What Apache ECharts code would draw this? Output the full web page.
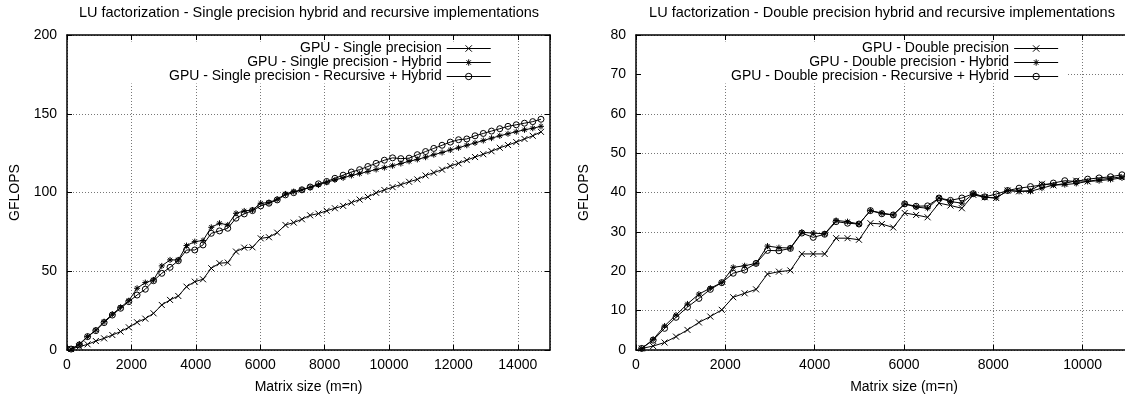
<!DOCTYPE html>
<html>
<head>
<meta charset="utf-8">
<script src="https://cdn.jsdelivr.net/npm/echarts@6/dist/echarts.min.js"></script>
<style>
  html, body { margin: 0; padding: 0; background: #fff; }
  #chart { width: 1125px; height: 398px; }
</style>
</head>
<body>
<div id="chart"></div>
<script>
// Matrix sizes (m = n) used in the single and double precision runs
const sizesSingle = [128, 384, 640, 896, 1152, 1408, 1664, 1920, 2176, 2432, 2688, 2944, 3200, 3456, 3712, 3968,
  4224, 4480, 4736, 4992, 5248, 5504, 5760, 6016, 6272, 6528, 6784, 7040, 7296, 7552, 7808, 8064, 8320, 8576,
  8832, 9088, 9344, 9600, 9856, 10112, 10368, 10624, 10880, 11136, 11392, 11648, 11904, 12160, 12416, 12672,
  12928, 13184, 13440, 13696, 13952, 14208, 14464, 14720];
const sizesDouble = [128, 384, 640, 896, 1152, 1408, 1664, 1920, 2176, 2432, 2688, 2944, 3200, 3456, 3712, 3968,
  4224, 4480, 4736, 4992, 5248, 5504, 5760, 6016, 6272, 6528, 6784, 7040, 7296, 7552, 7808, 8064, 8320, 8576,
  8832, 9088, 9344, 9600, 9856, 10112, 10368, 10624, 10880];

// GFLOPS, single precision
const spGpu = [0.6, 2.1, 3.6, 5.7, 7.4, 9.5, 11.7, 14.4, 17.6, 19.9, 23.3, 28.6, 31.8, 34.3, 40.2, 43.4, 44.9,
  51.9, 55.1, 55.5, 62.5, 65.0, 65.2, 70.9, 71.6, 74.5, 79.4, 80.9, 83.0, 85.5, 86.6, 88.4, 90.0, 91.5, 93.6,
  95.5, 97.2, 99.8, 101.6, 103.4, 105.0, 106.8, 108.3, 110.8, 112.6, 114.5, 116.8, 118.5, 120.6, 122.5, 124.3,
  126.2, 128.4, 130.1, 132.0, 134.0, 136.0, 138.5];
const spHybrid = [0.6, 3.8, 8.5, 12.7, 18.0, 22.7, 27.1, 31.3, 39.2, 42.8, 44.5, 53.4, 57.2, 57.2, 66.3, 68.8,
  69.5, 77.9, 80.5, 79.4, 86.8, 88.3, 88.9, 93.2, 93.6, 95.7, 99.1, 100.6, 101.7, 103.2, 104.8, 106.5, 108.0,
  109.3, 110.8, 112.0, 113.3, 114.6, 115.8, 117.0, 118.4, 119.8, 121.0, 122.4, 124.0, 125.4, 127.0, 128.4,
  130.0, 131.5, 133.0, 134.5, 136.0, 137.3, 138.6, 139.8, 140.8, 142.0];
const spRecursive = [0.6, 3.2, 8.5, 12.3, 17.4, 22.2, 26.5, 30.7, 34.9, 38.6, 44.0, 48.7, 52.5, 56.7, 63.5,
  63.5, 66.7, 74.1, 75.6, 77.3, 83.7, 86.4, 88.5, 91.5, 93.2, 95.3, 98.5, 99.9, 101.7, 103.5, 105.5, 107.0,
  109.0, 111.0, 113.0, 114.5, 116.5, 118.5, 120.5, 122.0, 121.5, 121.8, 124.0, 126.0, 128.0, 130.0, 132.0,
  133.5, 134.0, 136.0, 137.5, 139.0, 140.5, 142.0, 143.0, 144.0, 145.0, 146.5];

// GFLOPS, double precision
const dpGpu = [0.4, 1.0, 1.9, 3.4, 5.1, 7.0, 8.5, 10.2, 13.4, 14.4, 15.4, 19.3, 19.9, 20.2, 24.4, 24.4, 24.4,
  28.4, 28.4, 28.0, 32.2, 32.0, 31.1, 34.8, 34.3, 33.7, 37.3, 36.7, 36.0, 39.4, 38.8, 38.6, 40.5, 40.3, 40.5,
  42.2, 41.8, 42.3, 43.0, 42.8, 43.3, 43.6, 44.0];
const dpHybrid = [0.4, 2.7, 6.1, 8.9, 11.7, 14.2, 15.7, 17.1, 21.0, 21.4, 22.0, 26.4, 26.0, 25.9, 29.9, 29.7,
  29.5, 32.9, 32.6, 32.0, 35.4, 34.8, 34.3, 37.1, 36.3, 36.0, 38.6, 37.7, 37.3, 39.7, 38.8, 38.6, 40.5, 40.3,
  40.3, 41.1, 41.9, 42.0, 42.3, 42.8, 43.0, 43.3, 43.7];
const dpRecursive = [0.4, 2.5, 5.5, 8.3, 10.9, 13.1, 15.4, 17.1, 19.5, 20.3, 22.0, 25.3, 25.2, 25.8, 29.7,
  28.6, 29.4, 32.6, 32.2, 32.0, 35.4, 34.6, 34.3, 37.1, 36.5, 36.6, 38.6, 38.0, 38.6, 39.7, 38.9, 39.6, 40.5,
  41.1, 41.5, 41.9, 42.4, 43.0, 42.8, 43.4, 43.7, 44.0, 44.5];

const titles = [
  'LU factorization - Single precision hybrid and recursive implementations',
  'LU factorization - Double precision hybrid and recursive implementations'
];
const namesSingle = ['GPU - Single precision', 'GPU - Single precision - Hybrid',
  'GPU - Single precision - Recursive + Hybrid'];
const namesDouble = ['GPU - Double precision', 'GPU - Double precision - Hybrid',
  'GPU - Double precision - Recursive + Hybrid'];

const FONT = '"Liberation Sans", Arial, Helvetica, sans-serif';
const TXT = { color: '#000', fontFamily: FONT, fontSize: 14 };

// point markers: x, asterisk, open circle
const SYM_CROSS = 'path://M0,0L10,10M0,10L10,0';
const SYM_STAR = 'path://M5,0L5,10M0,5L10,5M1.5,1.5L8.5,8.5M1.5,8.5L8.5,1.5';
const SYM_CIRCLE = 'circle';

function pairs(xs, ys) { return ys.map((y, i) => [xs[i], y]); }

function lineSeries(name, xs, ys, symbol, axisIdx) {
  return {
    type: 'line', name, data: pairs(xs, ys),
    xAxisIndex: axisIdx, yAxisIndex: axisIdx,
    symbol, symbolSize: 6, showSymbol: true, showAllSymbol: true,
    lineStyle: { color: '#000', width: 1 },
    itemStyle: { color: 'rgba(0,0,0,0)', borderColor: '#000', borderWidth: 1 },
    emphasis: { disabled: true }, silent: true, animation: false, z: 3
  };
}

const GRID_LINE = { color: '#777', width: 1, type: [1, 2] };
const BORDER = { color: '#000', width: 1.5 };
const TICK = { show: true, inside: true, length: 5, lineStyle: { color: '#000', width: 1 } };
const plainNumber = v => String(v);

function xPair(gridIndex, max) {
  const base = { type: 'value', gridIndex, min: 0, max, interval: 2000 };
  return [
    Object.assign({}, base, {
      position: 'bottom',
      axisLine: { show: true, onZero: false, lineStyle: BORDER },
      axisTick: TICK,
      axisLabel: Object.assign({ margin: 8, showMaxLabel: false, formatter: plainNumber }, TXT),
      splitLine: { show: true, lineStyle: GRID_LINE },
      name: 'Matrix size (m=n)', nameLocation: 'middle', nameGap: 30,
      nameTextStyle: TXT
    }),
    Object.assign({}, base, {
      position: 'top',
      axisLine: { show: true, onZero: false, lineStyle: BORDER },
      axisTick: TICK, axisLabel: { show: false }, splitLine: { show: false }
    })
  ];
}

function yPair(gridIndex, max, interval) {
  const base = { type: 'value', gridIndex, min: 0, max, interval };
  return [
    Object.assign({}, base, {
      position: 'left',
      axisLine: { show: true, onZero: false, lineStyle: BORDER },
      axisTick: TICK,
      axisLabel: Object.assign({ margin: 10, formatter: plainNumber }, TXT),
      splitLine: { show: true, lineStyle: GRID_LINE },
      name: 'GFLOPS', nameLocation: 'middle', nameGap: 45, nameRotate: 90,
      nameTextStyle: TXT
    }),
    Object.assign({}, base, {
      position: 'right',
      axisLine: { show: true, onZero: false, lineStyle: BORDER },
      axisTick: TICK, axisLabel: { show: false }, splitLine: { show: false }
    })
  ];
}

function legend(names, left, padLeft) {
  return {
    data: names, orient: 'vertical', align: 'right',
    left, top: 41.5, padding: [0, 8, 0, padLeft],
    itemWidth: 44, itemHeight: 8, itemGap: 0,
    backgroundColor: '#fff', selectedMode: false,
    lineStyle: { width: 1, color: '#000' },
    itemStyle: { borderWidth: 1, borderColor: '#000', color: 'rgba(0,0,0,0)' },
    textStyle: Object.assign({ lineHeight: 14 }, TXT)
  };
}

const chart = echarts.init(document.getElementById('chart'), null, { renderer: 'canvas' });
chart.setOption({
  animation: false,
  backgroundColor: '#fff',
  title: [
    { text: titles[0], left: 309, top: 5, padding: 0, textAlign: 'center',
      textStyle: Object.assign({}, TXT, { fontWeight: 'normal', fontSize: 14.5 }) },
    { text: titles[1], left: 882, top: 5, padding: 0, textAlign: 'center',
      textStyle: Object.assign({}, TXT, { fontWeight: 'normal', fontSize: 14.5 }) }
  ],
  grid: [
    { left: 67, top: 35, width: 483, height: 315, outerBoundsMode: 'none', containLabel: false },
    { left: 636, top: 35, width: 536, height: 315, outerBoundsMode: 'none', containLabel: false }
  ],
  xAxis: [...xPair(0, 15000), ...xPair(1, 12000)],
  yAxis: [...yPair(0, 200, 50), ...yPair(1, 80, 10)],
  legend: [legend(namesSingle, 73, 96), legend(namesDouble, 642, 89)],
  series: [
    lineSeries(namesSingle[0], sizesSingle, spGpu, SYM_CROSS, 0),
    lineSeries(namesSingle[1], sizesSingle, spHybrid, SYM_STAR, 0),
    lineSeries(namesSingle[2], sizesSingle, spRecursive, SYM_CIRCLE, 0),
    lineSeries(namesDouble[0], sizesDouble, dpGpu, SYM_CROSS, 2),
    lineSeries(namesDouble[1], sizesDouble, dpHybrid, SYM_STAR, 2),
    lineSeries(namesDouble[2], sizesDouble, dpRecursive, SYM_CIRCLE, 2)
  ]
});
</script>
</body>
</html>
